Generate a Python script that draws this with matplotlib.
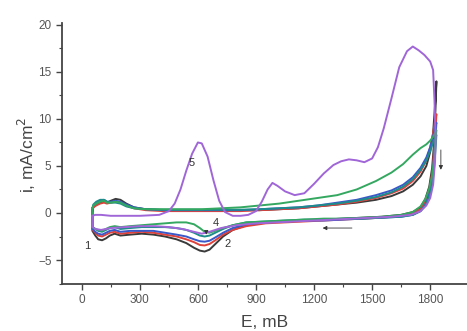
import matplotlib
matplotlib.use("Agg")
import matplotlib.pyplot as plt

plt.rcParams['font.family'] = ['Liberation Sans', 'DejaVu Sans']

# potential grids (mV) for the forward and reverse sweeps
e_fwd = [55, 60, 75, 95, 115, 130, 150, 175, 200, 230, 270, 330, 420, 520,
         620, 720, 820, 920, 1020, 1120, 1220, 1320, 1420, 1520, 1600, 1660,
         1710, 1750, 1780, 1800, 1815, 1825, 1832]
e_rev = [1832, 1828, 1820, 1810, 1795, 1775, 1750, 1710, 1650, 1550, 1450,
         1350, 1250, 1150, 1050, 950, 850, 780, 730, 690, 660, 635, 610, 580,
         540, 490, 430, 370, 310, 250, 200, 170, 145, 125, 105, 85, 70, 55]

# current density (mA/cm2)
black_fwd = [0.2, 0.6, 0.9, 1.1, 1.2, 1.1, 1.3, 1.5, 1.4, 1.0, 0.6, 0.4, 0.3,
             0.3, 0.3, 0.3, 0.3, 0.3, 0.4, 0.5, 0.7, 0.9, 1.1, 1.4, 1.8, 2.3,
             3.0, 3.9, 5.0, 6.5, 8.5, 11.5, 14.0]
black_rev = [14.0, 11.5, 7.5, 4.8, 2.8, 1.5, 0.6, 0.1, -0.2, -0.4, -0.5, -0.6,
             -0.7, -0.8, -0.9, -1.0, -1.3, -1.8, -2.5, -3.3, -3.9, -4.1, -4.0,
             -3.7, -3.2, -2.8, -2.5, -2.3, -2.2, -2.3, -2.4, -2.2, -2.4, -2.7,
             -2.9, -2.8, -2.4, -1.9]

red_fwd = [0.3, 0.6, 0.8, 1.0, 1.1, 1.0, 1.1, 1.2, 1.1, 0.8, 0.5, 0.3, 0.2,
           0.2, 0.2, 0.2, 0.2, 0.3, 0.4, 0.5, 0.7, 0.9, 1.2, 1.6, 2.1, 2.6,
           3.4, 4.4, 5.6, 7.0, 8.5, 9.8, 10.5]
red_rev = [10.5, 9.0, 6.5, 4.2, 2.4, 1.2, 0.4, 0.0, -0.3, -0.5, -0.6, -0.7,
           -0.8, -0.9, -1.0, -1.1, -1.4, -1.8, -2.3, -2.9, -3.3, -3.45, -3.4,
           -3.1, -2.8, -2.5, -2.3, -2.1, -2.0, -2.1, -2.2, -2.0, -2.1, -2.3,
           -2.5, -2.4, -2.1, -1.8]

blue_fwd = [0.4, 0.8, 1.1, 1.3, 1.4, 1.2, 1.2, 1.3, 1.2, 0.9, 0.6, 0.4, 0.3,
            0.3, 0.3, 0.3, 0.3, 0.4, 0.5, 0.6, 0.8, 1.1, 1.4, 1.9, 2.4, 3.0,
            3.8, 4.8, 5.9, 7.0, 8.2, 9.1, 9.6]
blue_rev = [9.6, 8.3, 6.0, 3.8, 2.0, 0.9, 0.2, -0.2, -0.4, -0.5, -0.6, -0.7,
            -0.8, -0.8, -0.9, -1.0, -1.2, -1.6, -2.1, -2.6, -2.95, -3.05,
            -3.0, -2.8, -2.5, -2.3, -2.1, -1.9, -1.9, -1.9, -2.0, -1.8, -1.9,
            -2.1, -2.3, -2.2, -2.0, -1.7]

teal_fwd = [0.5, 0.9, 1.2, 1.4, 1.4, 1.2, 1.1, 1.1, 1.0, 0.7, 0.5, 0.4, 0.35,
            0.35, 0.35, 0.35, 0.35, 0.4, 0.5, 0.6, 0.8, 1.0, 1.3, 1.7, 2.2,
            2.8, 3.6, 4.6, 5.6, 6.6, 7.5, 8.0, 8.3]
teal_rev = [8.3, 7.0, 4.8, 3.0, 1.7, 0.8, 0.2, -0.2, -0.4, -0.5, -0.6, -0.6,
            -0.7, -0.7, -0.8, -0.9, -1.0, -1.3, -1.7, -2.1, -2.4, -2.5, -2.4,
            -2.1, -1.8, -1.6, -1.5, -1.5, -1.5, -1.6, -1.7, -1.5, -1.6, -1.8,
            -2.0, -1.9, -1.7, -1.5]

green_fwd = [0.5, 0.8, 1.0, 1.2, 1.3, 1.1, 1.1, 1.2, 1.1, 0.8, 0.5, 0.4, 0.4,
             0.4, 0.4, 0.5, 0.6, 0.8, 1.0, 1.3, 1.6, 1.9, 2.5, 3.4, 4.3, 5.2,
             6.2, 6.9, 7.3, 7.7, 8.1, 8.5, 8.8]
green_rev = [8.8, 7.8, 5.8, 4.0, 2.6, 1.5, 0.7, 0.1, -0.2, -0.4, -0.5, -0.6,
             -0.6, -0.7, -0.8, -0.9, -1.0, -1.3, -1.6, -1.9, -2.1, -2.0, -1.6,
             -1.2, -1.0, -1.0, -1.1, -1.2, -1.3, -1.4, -1.5, -1.4, -1.5, -1.7,
             -1.9, -1.8, -1.7, -1.5]

# curve 5 has its own grid (oxidation peaks)
e_purple = [55, 70, 100, 150, 200, 300, 400, 450, 480, 510, 540, 570, 600, 620,
            650, 680, 710, 740, 780, 820, 860, 900, 930, 960, 985, 1010, 1050,
            1100, 1150, 1200, 1250, 1300, 1340, 1380, 1420, 1460, 1500, 1530,
            1560, 1600, 1640, 1680, 1710, 1740, 1770, 1800, 1815, 1822, 1828,
            1825, 1815, 1800, 1780, 1750, 1700, 1600, 1500, 1400, 1300, 1200,
            1100, 1000, 900, 800, 720, 660, 620, 580, 520, 450, 380, 300, 220,
            150, 100, 70, 55, 55]
i_purple = [-0.3, -0.2, -0.2, -0.3, -0.3, -0.3, -0.2, 0.2, 1.0, 2.5, 4.5, 6.3,
            7.5, 7.4, 6.0, 3.5, 1.3, 0.1, -0.3, -0.3, -0.2, 0.2, 1.2, 2.5, 3.2,
            2.9, 2.3, 1.9, 2.1, 3.1, 4.2, 5.1, 5.5, 5.7, 5.6, 5.4, 5.8, 7.0,
            9.0, 12.2, 15.5, 17.2, 17.7, 17.3, 16.8, 16.1, 15.2, 12.0, 8.0,
            5.5, 3.0, 1.6, 0.8, 0.2, -0.2, -0.4, -0.5, -0.6, -0.7, -0.8, -0.9,
            -1.0, -1.1, -1.3, -1.6, -2.0, -2.2, -2.0, -1.7, -1.5, -1.4, -1.4,
            -1.5, -1.6, -1.8, -1.7, -1.5, -0.3]

curves = [
    (black_fwd, black_rev, '#3a3a3a'),
    (red_fwd, red_rev, '#e0403a'),
    (blue_fwd, blue_rev, '#3a58c8'),
    (teal_fwd, teal_rev, '#1f8c8c'),
    (green_fwd, green_rev, '#34a860'),
]

fig = plt.figure(figsize=(4.67, 3.31), dpi=100)
ax = fig.add_axes([62 / 467, 1 - 284 / 331, 405 / 467, 261 / 331])

for fwd, rev, color in curves:
    e = e_fwd + e_rev + [e_fwd[0]]
    i = fwd + rev + [fwd[0]]
    ax.plot(e, i, color=color, lw=1.4)

ax.plot(e_purple, i_purple, color='#a066d8', lw=1.4)

# curve labels
txt = dict(fontsize=8, color='#333333', ha='center', va='center')
ax.text(30, -3.5, "1", **txt)
ax.text(755, -3.3, "2", **txt)
ax.text(690, -1.1, "4", **txt)
ax.text(570, 5.3, "5", **txt)

# sweep direction arrows
arr = dict(arrowstyle='-|>', color='#333333', lw=0.6, mutation_scale=6)
ax.annotate("", xy=(1230, -1.6), xytext=(1410, -1.6), arrowprops=arr)
ax.annotate("", xy=(1855, 4.3), xytext=(1855, 7.0), arrowprops=arr)
ax.annotate("", xy=(643, -2.6), xytext=(643, -1.8), arrowprops=arr)

ax.set_xlim(-102, 1990)
ax.set_ylim(-7.55, 20.2)
ax.set_xticks([0, 300, 600, 900, 1200, 1500, 1800])
ax.set_xticks(range(150, 1950, 300), minor=True)
ax.set_yticks([-5, 0, 5, 10, 15, 20])
ax.set_yticks([-7.5, -2.5, 2.5, 7.5, 12.5, 17.5], minor=True)

for side in ('top', 'right'):
    ax.spines[side].set_visible(False)
for side in ('left', 'bottom'):
    ax.spines[side].set_color('#444444')
    ax.spines[side].set_linewidth(1.3)

ax.tick_params(which='major', direction='out', length=4, width=1,
               colors='#444444', labelsize=8.5, labelcolor='#555555')
ax.tick_params(which='minor', direction='out', length=2, width=0.8,
               colors='#444444')

ax.set_xlabel("E, mB", fontsize=12.5, color='#444444', va='center')
ax.set_ylabel("i, mA/cm$^2$", fontsize=12.5, color='#444444', va='center')
ax.xaxis.set_label_coords(0.501, -0.149)
ax.yaxis.set_label_coords(-0.086, 0.494)

fig.savefig("out.png", dpi=100)
